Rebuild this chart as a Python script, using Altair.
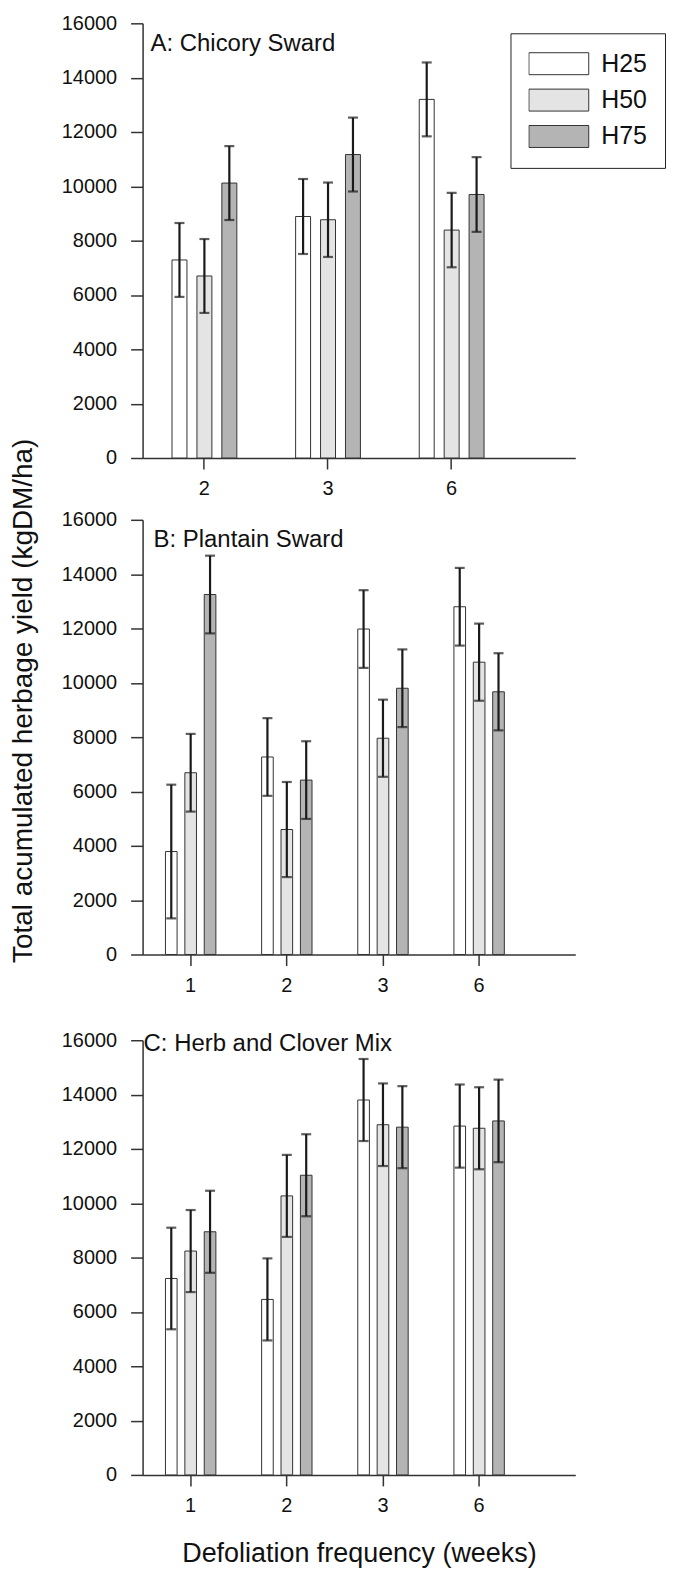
import altair as alt
import pandas as pd

FONT = "Liberation Sans"
horizons = ["H25", "H50", "H75"]
fills = ["#ffffff", "#e4e4e4", "#b4b4b4"]

# Panel A: Chicory Sward
a_weeks = ["2", "3", "6"]
a_h25 = [7290, 8890, 13200]
a_h50 = [6700, 8770, 8390]
a_h75 = [10120, 11170, 9700]
a_e25 = [1360, 1380, 1360]
a_e50 = [1360, 1370, 1370]
a_e75 = [1360, 1360, 1375]

# Panel B: Plantain Sward
b_weeks = ["1", "2", "3", "6"]
b_h25 = [3790, 7270, 11980, 12800]
b_h50 = [6690, 4600, 7960, 10760]
b_h75 = [13250, 6420, 9800, 9670]
b_e25 = [2460, 1430, 1430, 1430]
b_e50 = [1430, 1750, 1420, 1420]
b_e75 = [1430, 1430, 1430, 1420]

# Panel C: Herb and Clover Mix
c_weeks = ["1", "2", "3", "6"]
c_h25 = [7230, 6460, 13800, 12840]
c_h50 = [8240, 10270, 12890, 12760]
c_h75 = [8950, 11030, 12800, 13030]
c_e25 = [1870, 1510, 1510, 1530]
c_e50 = [1510, 1510, 1520, 1510]
c_e75 = [1510, 1510, 1510, 1520]

y_ticks = [0, 2000, 4000, 6000, 8000, 10000, 12000, 14000, 16000]

W, H = 434, 436


def make_df(weeks, series, errs):
    rows = []
    for h, vals, es in zip(horizons, series, errs):
        for w, v, e in zip(weeks, vals, es):
            rows.append({"week": w, "h": h, "y": v, "lo": v - e, "hi": v + e})
    return pd.DataFrame(rows)


legend = alt.Legend(
    title=None, orient="none", legendX=369, legendY=10,
    symbolType="M-1,-0.367L1,-0.367L1,0.367L-1,0.367Z", symbolSize=3600,
    symbolStrokeColor="#333333", symbolStrokeWidth=1, clipHeight=25,
    labelFont=FONT, labelFontSize=25, labelColor="#111111", labelOffset=12,
    rowPadding=10.5, padding=18, strokeColor="#222222", fillColor="#ffffff",
    cornerRadius=0,
)


def panel(df, weeks, title, ytitle=None, xtitle=None, show_legend=False,
          tdx=8, tdy=27.5, extra_top=0):
    x = alt.X(
        "week:N", sort=weeks,
        scale=alt.Scale(domain=weeks, paddingInner=0.274, paddingOuter=0.387,
                        align=0.177),
        axis=alt.Axis(title=xtitle, labelAngle=0, tickSize=11, labelPadding=10,
                      titleFontSize=27, titlePadding=25),
    )
    xo = alt.XOffset(
        "h:N", sort=horizons,
        scale=alt.Scale(domain=horizons, paddingInner=0.4, paddingOuter=0.5),
    )
    yaxis = alt.Axis(values=y_ticks, format="d", title=ytitle, tickSize=12,
                     labelPadding=14, titleFontSize=28, titlePadding=24,
                     titleY=181)
    ph = H + extra_top
    ysc = alt.Scale(domain=[0, 16000], nice=False, range=[ph, extra_top])
    base = alt.Chart(df)
    bars = base.mark_bar(stroke="#333333", strokeWidth=1).encode(
        x=x, xOffset=xo,
        y=alt.Y("y:Q", scale=ysc, axis=yaxis),
        color=alt.Color("h:N", scale=alt.Scale(domain=horizons, range=fills),
                        legend=legend if show_legend else None),
    )
    rules = base.mark_rule(color="#1a1a1a", strokeWidth=2.2).encode(
        x=x, xOffset=xo, y=alt.Y("lo:Q", scale=ysc, axis=yaxis), y2="hi:Q"
    )
    cap_hi = base.mark_tick(color="#1a1a1a", size=10, thickness=2.2).encode(
        x=x, xOffset=xo, y=alt.Y("hi:Q", scale=ysc, axis=yaxis)
    )
    cap_lo = base.mark_tick(color="#1a1a1a", size=10, thickness=2.2).encode(
        x=x, xOffset=xo, y=alt.Y("lo:Q", scale=ysc, axis=yaxis)
    )
    label = alt.Chart(pd.DataFrame({"t": [title]})).mark_text(
        align="left", baseline="alphabetic", font=FONT, fontSize=24,
        color="#111111",
    ).encode(x=alt.value(tdx), y=alt.value(tdy + extra_top), text="t:N")
    return alt.layer(bars, rules, cap_hi, cap_lo, label).properties(
        width=W, height=ph)


pa = panel(make_df(a_weeks, [a_h25, a_h50, a_h75], [a_e25, a_e50, a_e75]),
           a_weeks, "A: Chicory Sward", show_legend=True, tdx=8)
pb = panel(make_df(b_weeks, [b_h25, b_h50, b_h75], [b_e25, b_e50, b_e75]),
           b_weeks, "B: Plantain Sward",
           ytitle="Total acumulated herbage yield (kgDM/ha)", tdx=11)
pc = panel(make_df(c_weeks, [c_h25, c_h50, c_h75], [c_e25, c_e50, c_e75]),
           c_weeks, "C: Herb and Clover Mix",
           xtitle="Defoliation frequency (weeks)", tdx=1, tdy=10.6,
           extra_top=24)

chart = alt.vconcat(pa, pb, pc, spacing=62, bounds="flush").resolve_scale(
    x="independent", y="independent", xOffset="independent"
).properties(
    padding={"left": 1, "top": 3, "right": 0, "bottom": 0},
    background="white",
).configure_view(stroke=None).configure_axis(
    labelFont=FONT, titleFont=FONT, labelFontSize=20, labelColor="#111111",
    titleColor="#111111", titleFontWeight="normal", domainColor="#333333",
    domainWidth=1.5, tickColor="#333333", tickWidth=1.5, grid=False,
)

chart.save("out.html", embed_options={"renderer": "svg", "actions": False})
